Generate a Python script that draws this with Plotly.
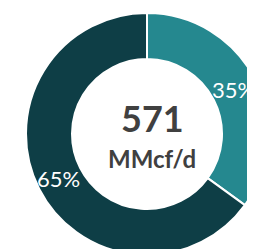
import math
import plotly.graph_objects as go

labels = ["Share A", "Share B"]
shares = [35, 65]
colors = ["#25888F", "#0E3E46"]
total_value = "571"
unit_label = "MMcf/d"

W, H = 300, 270
OFF = 8  # browser body margin

def px_x(px):
    return (px - OFF) / W

def px_y(py):
    return 1 - (py - OFF) / H

CX, CY, R_OUT, R_IN = 147, 134, 121, 75

fig = go.Figure(go.Pie(
    labels=labels,
    values=shares,
    hole=R_IN / R_OUT,
    sort=False,
    direction="clockwise",
    rotation=0,
    marker=dict(colors=colors, line=dict(color="white", width=2)),
    textinfo="none",
    showlegend=False,
    hoverinfo="none",
    domain=dict(x=[px_x(CX - R_OUT), px_x(CX + R_OUT)],
                y=[px_y(CY + R_OUT), px_y(CY - R_OUT)]),
))

# percentage labels placed at the middle of each ring segment
total = sum(shares)
cum = 0
r_mid = (R_OUT + R_IN) / 2
for v in shares:
    mid = (cum + v / 2) / total * 2 * math.pi
    cum += v
    lx = CX + r_mid * math.sin(mid)
    ly = CY - r_mid * math.cos(mid)
    fig.add_annotation(x=px_x(lx - 1), y=px_y(ly), xref="paper", yref="paper",
                       xanchor="center", yanchor="middle",
                       text=f"{round(v / total * 100)}%", showarrow=False,
                       font=dict(family="Lato", size=22, color="white"))

fig.add_annotation(x=px_x(152), y=px_y(118), xref="paper", yref="paper",
                   xanchor="center", yanchor="middle",
                   text=f"<b>{total_value}</b>", showarrow=False,
                   font=dict(family="Lato", size=36, color="#404040"))
fig.add_annotation(x=px_x(152), y=px_y(158), xref="paper", yref="paper",
                   xanchor="center", yanchor="middle",
                   text=f"<b>{unit_label}</b>", showarrow=False,
                   font=dict(family="Lato", size=24, color="#404040"))

fig.update_layout(
    width=W, height=H,
    margin=dict(l=0, r=0, t=0, b=0),
    paper_bgcolor="white",
    plot_bgcolor="white",
)

fig.write_html("out.html", config={"displayModeBar": False})
